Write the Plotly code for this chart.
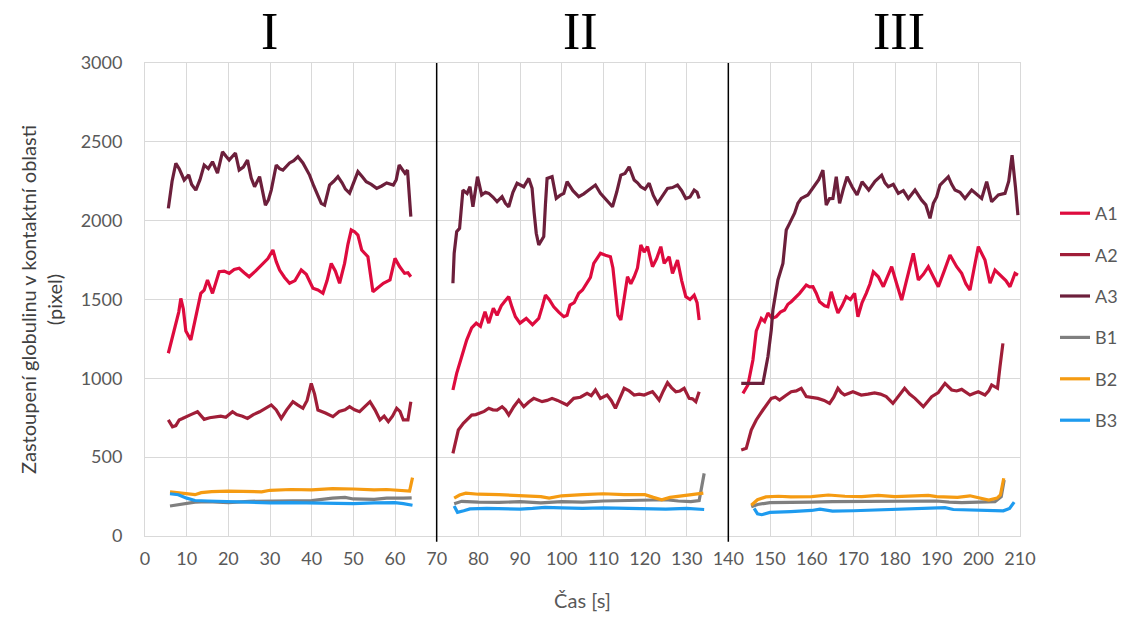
import plotly.graph_objects as go

# ---------------- data (time in s, value in pixels); None separates the three experiments ----------------
A1_t = [5.6, 6.6, 7.5, 8.1, 8.6, 9.2, 9.8, 11, 12.2, 13.4, 14.2, 15, 16.2, 17, 17.8, 19, 20.2, 21.4, 22.6, 23.8, 25, 26.5, 28.3, 29.5, 30.7, 31.5, 32.3, 33.5, 34.7, 36, 37.5, 38.7, 40.3, 41.5, 42.7, 43.7, 44.7, 45.7, 46.7, 47.9, 48.7, 49.5, 50.3, 51.1, 52, 52.8, 53.5, 54.7, 56, 57.2, 58.8, 60, 61.1, 62.3, 63.1, 63.8,
        None,
        73.9, 74.8, 76, 77.2, 78.4, 79.5, 80.5, 81.6, 82.5, 83.6, 84.5, 85.5, 86.4, 87.3, 88.1, 88.9, 90, 91.5, 93, 94.5, 95.3, 96.1, 97, 98.1, 99.3, 100.5, 101.3, 102, 103, 104.1, 105, 106.1, 106.9, 107.7, 108.5, 109.3, 110.5, 111.7, 112.3, 112.9, 113.5, 114.2, 114.9, 115.8, 116.6, 117.4, 118.2, 119, 119.8, 120.6, 121.8, 122.8, 123.8, 124.6, 125.8, 126.6, 127.8, 128.8, 129.8, 130.8, 131.8, 132.5, 133,
        None,
        143.5, 144.7, 145.9, 146.7, 147.9, 148.7, 149.5, 150.5, 151.5, 152.5, 153.5, 154.3, 155.1, 156.1, 157.1, 158.7, 159.5, 160.3, 161.1, 161.9, 163.1, 163.9, 164.7, 165.5, 166.3, 167.3, 168.3, 169.3, 170.3, 171.1, 172.1, 173.1, 174, 174.8, 176, 177.2, 178.2, 179.2, 180.4, 181.6, 182.8, 183.6, 184.4, 185.6, 186.8, 188, 189.2, 190.4, 191.8, 193.2, 194.8, 196, 197, 198, 199, 200, 201.6, 202.8, 204, 205.6, 206.6, 207.6, 208.8, 209.5]
A1_v = [1159, 1264, 1350, 1420, 1507, 1440, 1300, 1243, 1391, 1539, 1560, 1624, 1539, 1600, 1676, 1680, 1666, 1690, 1698, 1670, 1644, 1680, 1729, 1760, 1814, 1740, 1687, 1640, 1603, 1620, 1687, 1660, 1571, 1560, 1539, 1620, 1729, 1680, 1603, 1729, 1850, 1941, 1930, 1909, 1814, 1790, 1771, 1549, 1580, 1603, 1624, 1761, 1709, 1666, 1670, 1644,
        None,
        926, 1032, 1137, 1243, 1320, 1350, 1330, 1423, 1350, 1444, 1400, 1460, 1490, 1518, 1450, 1391, 1350, 1380, 1340, 1380, 1450, 1528, 1500, 1454, 1420, 1391, 1400, 1465, 1480, 1539, 1560, 1603, 1640, 1729, 1760, 1793, 1780, 1771, 1700, 1539, 1400, 1370, 1480, 1644, 1600, 1644, 1700, 1846, 1800, 1835, 1708, 1760, 1835, 1729, 1771, 1666, 1750, 1620, 1518, 1500, 1528, 1480, 1370,
        None,
        905, 958, 1116, 1300, 1380, 1360, 1414, 1380, 1391, 1420, 1433, 1470, 1486, 1510, 1539, 1592, 1580, 1581, 1540, 1486, 1460, 1454, 1549, 1480, 1414, 1460, 1518, 1500, 1539, 1391, 1480, 1539, 1600, 1676, 1644, 1581, 1640, 1708, 1600, 1496, 1624, 1700, 1793, 1624, 1660, 1708, 1640, 1581, 1680, 1782, 1708, 1666, 1600, 1560, 1700, 1835, 1750, 1603, 1687, 1644, 1620, 1581, 1666, 1655]

A2_t = [5.6, 6.6, 7.4, 8.2, 9, 9.8, 11, 12.6, 13.4, 14.2, 15.5, 17, 18.2, 19.4, 20.2, 21, 22, 23.4, 24.6, 26, 27.5, 28.9, 30.3, 31.5, 32.7, 34, 35.5, 36.7, 37.9, 38.9, 39.9, 40.7, 41.5, 43.3, 45.1, 46.6, 48, 49.1, 50.3, 51.5, 52.7, 54, 55.2, 56.4, 57.4, 58.4, 59.4, 60.4, 61.2, 62, 63.1, 63.8,
        None,
        73.9, 74.5, 75.2, 76.4, 77.4, 78.4, 79.4, 80.4, 81.4, 82.5, 83.5, 84.5, 85.7, 86.5, 87.3, 88.5, 89.7, 90.9, 92.1, 93.3, 94.3, 95.3, 96.5, 97.7, 99, 100.2, 101.3, 102.9, 104.5, 106.1, 107.1, 108.1, 109.3, 110.9, 111.9, 112.9, 114, 115, 116.2, 117.4, 118.6, 119.8, 120.8, 121.8, 122.6, 123.4, 124.4, 125.4, 126.4, 127.4, 128.4, 129.4, 130.6, 131.4, 132.2, 133,
        None,
        143.1, 144.3, 145.5, 146.7, 148.3, 149.3, 150.3, 151.3, 152.3, 153.7, 155.1, 156.3, 157.5, 158.7, 160, 161.5, 163, 164.3, 165.3, 166.3, 167.1, 167.9, 169.9, 171.9, 173.5, 175.1, 176.5, 177.9, 179.5, 181, 182.3, 183.5, 184.8, 186.8, 188, 188.8, 190.4, 192, 193.6, 194.8, 196, 197, 198, 199, 200, 201.6, 202.5, 203.2, 204.6, 205.2, 205.9]
A2_v = [736, 693, 700, 736, 745, 757, 770, 788, 760, 740, 750, 753, 760, 753, 770, 788, 770, 760, 746, 770, 788, 810, 831, 800, 746, 800, 852, 830, 810, 860, 968, 900, 799, 780, 757, 790, 800, 820, 800, 788, 820, 852, 800, 736, 760, 725, 760, 810, 790, 736, 736, 852,
        None,
        524, 600, 672, 715, 740, 767, 770, 778, 790, 810, 800, 799, 820, 800, 767, 820, 862, 820, 850, 873, 860, 852, 860, 873, 860, 845, 831, 873, 880, 905, 890, 926, 873, 894, 860, 810, 880, 937, 920, 894, 900, 894, 905, 915, 890, 862, 920, 972, 940, 915, 920, 937, 873, 870, 852, 915,
        None,
        545, 556, 672, 736, 799, 840, 873, 880, 862, 890, 915, 920, 937, 884, 880, 873, 860, 841, 880, 937, 910, 894, 915, 894, 900, 908, 900, 884, 841, 890, 937, 900, 873, 820, 860, 884, 910, 968, 926, 920, 930, 910, 894, 905, 915, 894, 920, 958, 937, 1074, 1222]

A3_t = [5.6, 6.5, 7.4, 8.2, 9.4, 10.5, 11.2, 12.2, 13.2, 14.2, 15.2, 16.2, 17.4, 18.6, 19.4, 20.2, 21.7, 22.6, 23.6, 24.6, 25.5, 26.3, 27.5, 28.2, 28.9, 29.6, 30.3, 31.5, 32.3, 33.1, 34.7, 35.7, 36.7, 37.9, 38.7, 39.5, 40.5, 41.5, 42.3, 43.1, 44.3, 45.3, 46.3, 47.3, 48.1, 49.1, 50.1, 51.1, 52.1, 53.1, 54.3, 55.6, 56.8, 58, 59.6, 60.3, 61, 62.4, 63, 63.8,
        None,
        73.9, 74.2, 74.8, 75.5, 76.3, 77.3, 78, 78.7, 79.8, 80.8, 81.7, 82.5, 83.5, 84.5, 85.7, 86.5, 87.3, 88.3, 89.3, 90.9, 92.1, 92.9, 93.4, 93.9, 94.5, 95.7, 96.1, 96.5, 97.7, 98.7, 99.6, 100.5, 101.3, 102.7, 104.1, 105.3, 106.5, 108.1, 109.3, 110.7, 112.2, 113.2, 114.2, 115.2, 116.2, 117.4, 118.2, 119, 120, 121, 122, 123, 124.2, 125.4, 126.6, 127.8, 128.8, 129.8, 130.8, 131.8, 132.5, 133,
        None,
        143.1, 144.5, 146, 147.2, 148.3, 149.5, 150.3, 150.7, 151.9, 153.1, 153.9, 154.7, 155.9, 156.7, 157.5, 159.1, 160.7, 161.7, 162.7, 163.5, 164.3, 165.1, 165.9, 166.7, 167.6, 168.5, 169.7, 170.9, 172.1, 173.7, 175.2, 176.8, 177.6, 178.4, 179.6, 180.8, 182, 183.2, 184.8, 186.4, 187.4, 188.4, 189.2, 190, 190.8, 192.8, 193.6, 194.4, 195.6, 196.8, 198.4, 199.6, 200.8, 202, 203.2, 204.8, 206.4, 207.3, 208.1, 208.9, 209.5]
A3_v = [2078, 2250, 2364, 2330, 2258, 2290, 2230, 2194, 2260, 2353, 2330, 2374, 2302, 2437, 2410, 2385, 2429, 2321, 2340, 2385, 2270, 2215, 2279, 2180, 2099, 2130, 2194, 2353, 2330, 2321, 2366, 2380, 2406, 2366, 2330, 2289, 2220, 2152, 2110, 2099, 2226, 2250, 2279, 2240, 2200, 2175, 2250, 2311, 2280, 2247, 2230, 2205, 2220, 2239, 2226, 2260, 2353, 2300, 2321, 2025,
        None,
        1603, 1793, 1930, 1951, 2194, 2173, 2215, 2088, 2279, 2163, 2180, 2173, 2150, 2120, 2152, 2110, 2088, 2180, 2237, 2215, 2268, 2205, 2050, 1920, 1846, 1899, 2100, 2268, 2279, 2141, 2160, 2173, 2247, 2190, 2152, 2170, 2194, 2226, 2173, 2130, 2088, 2180, 2289, 2300, 2342, 2258, 2240, 2215, 2200, 2237, 2160, 2110, 2160, 2205, 2210, 2226, 2190, 2141, 2150, 2194, 2180, 2141,
        None,
        968, 968, 965, 968, 968, 1137, 1306, 1433, 1624, 1729, 1941, 1983, 2047, 2110, 2141, 2163, 2226, 2260, 2321, 2099, 2140, 2141, 2279, 2110, 2200, 2279, 2215, 2163, 2247, 2194, 2250, 2289, 2240, 2215, 2230, 2173, 2190, 2141, 2194, 2130, 2100, 2015, 2110, 2150, 2226, 2279, 2230, 2194, 2180, 2141, 2194, 2170, 2141, 2247, 2120, 2163, 2173, 2250, 2416, 2215, 2035]

B1_t = [6, 8, 10, 12, 15, 20, 25, 30, 35, 40, 45, 48, 50, 55, 58, 60, 62, 64,
        None,
        74.2, 76, 80, 85, 90, 95, 100, 105, 110, 115, 120, 125, 128, 131, 133, 133.6, 134.2,
        None,
        145.5, 147, 150, 155, 160, 165, 170, 175, 180, 185, 190, 193, 196, 200, 204, 205.5, 206.2]
B1_v = [190, 200, 210, 215, 218, 212, 220, 222, 225, 225, 240, 245, 235, 232, 240, 238, 240, 242,
        None,
        205, 220, 215, 213, 218, 210, 218, 215, 222, 225, 228, 230, 222, 218, 225, 300, 397,
        None,
        185, 200, 212, 212, 215, 218, 218, 220, 218, 220, 222, 215, 212, 215, 218, 250, 355]

B2_t = [6, 8, 10, 12, 13.5, 16, 20, 25, 28, 30, 35, 40, 45, 50, 55, 58, 62, 63.5, 64.2,
        None,
        74.2, 75.5, 77, 80, 85, 90, 95, 97, 100, 105, 110, 115, 120, 122, 124, 126, 130, 133, 134,
        None,
        145.5, 147, 149, 152, 155, 160, 164, 168, 172, 176, 180, 185, 188, 190, 195, 198, 200, 202.5, 204.5, 205.3, 206.1]
B2_v = [280, 275, 270, 262, 275, 282, 285, 285, 280, 290, 295, 292, 300, 298, 292, 295, 290, 285, 370,
        None,
        240, 260, 272, 265, 262, 258, 250, 240, 255, 262, 268, 262, 262, 245, 230, 245, 258, 265, 272,
        None,
        195, 230, 248, 252, 248, 250, 260, 252, 250, 258, 250, 255, 258, 250, 245, 255, 245, 228, 240, 260, 366]

B3_t = [6, 8, 10, 12, 15, 20, 25, 30, 35, 40, 45, 50, 55, 60, 62, 64.2,
        None,
        74.2, 75, 76.5, 78, 82, 86, 90, 93, 96, 100, 105, 110, 115, 120, 125, 130, 134.2,
        None,
        146.2, 147, 148, 150, 155, 160, 162, 165, 170, 175, 180, 185, 190, 192, 194, 198, 203, 206, 207.5, 208.6]
B3_v = [268, 262, 240, 225, 222, 218, 212, 210, 212, 210, 208, 205, 210, 212, 205, 195,
        None,
        190, 150, 160, 172, 175, 172, 170, 175, 182, 178, 175, 178, 175, 172, 170, 175, 168,
        None,
        175, 140, 135, 150, 155, 162, 170, 158, 160, 165, 168, 172, 175, 180, 168, 165, 165, 160, 175, 215]

series_names = ["A1", "A2", "A3", "B1", "B2", "B3"]
series_t = [A1_t, A2_t, A3_t, B1_t, B2_t, B3_t]
series_v = [A1_v, A2_v, A3_v, B1_v, B2_v, B3_v]
series_colors = ["#DE0B3E", "#A01E38", "#6C1F3B", "#7F7F7F", "#F59B12", "#1E9BEF"]

section_labels = ["I", "II", "III"]
section_label_x = [29.9, 104.5, 180.9]
section_bounds = [70, 140]

x_title = "Čas [s]"
y_title = "Zastoupení globulinu v kontaktní oblasti<br>(pixel)"

# ---------------- figure ----------------
fig = go.Figure()
for name, t, v, c in zip(series_names, series_t, series_v, series_colors):
    fig.add_trace(go.Scatter(
        x=t, y=v, name=name, mode="lines", legendgroup=name,
        line=dict(color=c, width=3.2), connectgaps=False))

font_family = "Lato, Open Sans, sans-serif"
grid = "#D9D9D9"

fig.update_layout(
    width=1127, height=619,
    margin=dict(l=145, r=107, t=63, b=83, autoexpand=False),
    paper_bgcolor="white", plot_bgcolor="white",
    font=dict(family=font_family, size=18, color="#595959"),
    showlegend=True,
    legend=dict(x=1.04, y=0.463, xanchor="left", yanchor="middle",
                font=dict(size=18, color="#595959"),
                tracegroupgap=15, bgcolor="rgba(0,0,0,0)"),
    xaxis=dict(range=[0, 210], tick0=0, dtick=10, showgrid=True, gridcolor=grid, gridwidth=1,
               zeroline=False, showline=True, linecolor=grid, linewidth=1, mirror=True,
               ticks="", ticklabelstandoff=6,
               tickfont=dict(size=18, color="#595959"),
               title=dict(text=x_title, font=dict(size=20, color="#595959"), standoff=26)),
    yaxis=dict(range=[0, 3000], tick0=0, dtick=500, showgrid=True, gridcolor=grid, gridwidth=1,
               zeroline=False, showline=True, linecolor=grid, linewidth=1, mirror=True,
               ticks="", ticklabelstandoff=18,
               tickfont=dict(size=18, color="#595959"),
               title=dict(text=y_title, font=dict(size=20, color="#404040"), standoff=12)),
)

for xb in section_bounds:
    fig.add_shape(type="line", xref="x", yref="paper", x0=xb, x1=xb, y0=-0.012, y1=1.0,
                  line=dict(color="black", width=1.5), layer="above")

for lab, lx in zip(section_labels, section_label_x):
    fig.add_annotation(x=lx, xref="x", y=1.066, yref="paper", text=lab, showarrow=False,
                       xanchor="center", yanchor="middle",
                       font=dict(family="Liberation Serif, DejaVu Serif, serif", size=52, color="black"))

fig.write_html("out.html")
